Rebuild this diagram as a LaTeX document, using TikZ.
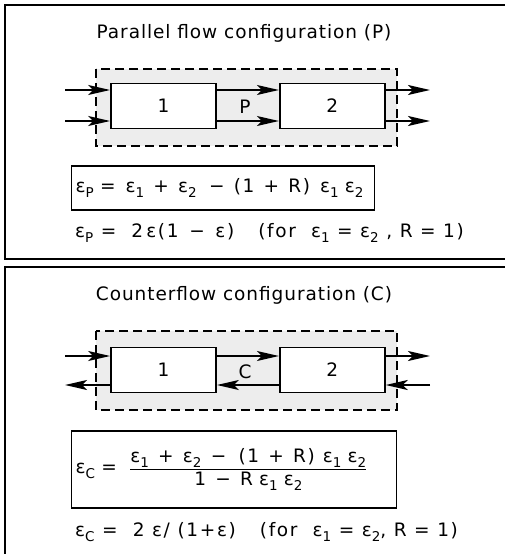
\documentclass[tikz,border=0pt]{standalone}
\usepackage{fontspec}
\setmainfont{DejaVu Sans}[LetterSpace=5]
\usepackage{tikz}
\usetikzlibrary{arrows.meta, positioning}

\newcommand{\eps}{ε}
\newcommand{\sbs}[1]{\raisebox{-5pt}{\fontsize{13.5}{14}\selectfont #1}}

\begin{document}
\begin{tikzpicture}[x=1pt, y=-1pt,
    >={Stealth[length=22pt, width=10pt, inset=5pt]},
    every node/.style={font=\fontsize{18.5}{22}\selectfont},
    eqfont/.style={font=\fontsize{18.5}{22}\selectfont\addfontfeature{LetterSpace=9}},
    unitbox/.style={draw, line width=1.8pt, fill=white, minimum width=105pt, minimum height=45pt, inner sep=0pt},
    flow/.style={line width=1.6pt, ->},
    zone/.style={draw, line width=1.4pt, dash pattern=on 9pt off 5pt, fill=black!7},
    frame/.style={line width=1.6pt},
    eqbox/.style={eqfont, draw, line width=1.4pt, anchor=west, inner xsep=4pt, align=left},
    eqline/.style={eqfont, anchor=west, inner xsep=4pt}]
    \useasboundingbox (0,0) rectangle (505,554);

    % Rahmen der beiden Felder (rechts offen)
    \draw[frame] (505,5) -- (5,5) -- (5,259) -- (505,259);
    \draw[frame] (505,267) -- (5,267) -- (5,554);

    % Parallelschaltung (P)
    \node (titleP) at (244,33) {Parallel flow configuration (P)};
    \draw[zone] (96,69) rectangle (397,146);
    \node[unitbox] (b1P) at (163.5,106) {1};
    \node[unitbox, right=62pt of b1P] (b2P) {2};
    \node (labP) at (245,107) {P};
    \coordinate (inPa) at (65,90);
    \coordinate (inPb) at (65,121);
    \coordinate (outPa) at (430,90);
    \coordinate (outPb) at (430,121);
    \draw[flow] (inPa) -- (inPa -| b1P.west);
    \draw[flow] (inPb) -- (inPb -| b1P.west);
    \draw[flow] (inPa -| b1P.east) -- (inPa -| b2P.west);
    \draw[flow] (inPb -| b1P.east) -- (inPb -| b2P.west);
    \draw[flow] (inPa -| b2P.east) -- (outPa);
    \draw[flow] (inPb -| b2P.east) -- (outPb);

    \node[eqbox, minimum height=44pt, text width=295pt] (eqP) at (71,188)
        {\eps\sbs{P} =\hspace{10pt}\eps\sbs{1} \,+\, \eps\sbs{2} \ −\ \,(1 \,+\, R)\hspace{10pt}\eps\sbs{1}\ \eps\sbs{2}};
    \node[eqline] (eqPs) at (71,233)
        {\eps\sbs{P} = \ 2\,\eps(1 \,−\, \eps)\hspace{24pt}(for \ \eps\sbs{1} = \eps\sbs{2} , R = 1)};

    % Gegenstromschaltung (C)
    \node (titleC) at (244,295) {Counterflow configuration (C)};
    \draw[zone] (96,331) rectangle (397,410);
    \node[unitbox] (b1C) at (163.5,370) {1};
    \node[unitbox, right=62pt of b1C] (b2C) {2};
    \node (labC) at (245,372) {C};
    \coordinate (inCa) at (65,356);
    \coordinate (outCb) at (65,385);
    \coordinate (outCa) at (430,356);
    \coordinate (inCb) at (430,385);
    \draw[flow] (inCa) -- (inCa -| b1C.west);
    \draw[flow] (inCa -| b1C.east) -- (inCa -| b2C.west);
    \draw[flow] (inCa -| b2C.east) -- (outCa);
    \draw[flow] (inCb) -- (inCb -| b2C.east);
    \draw[flow] (inCb -| b2C.west) -- (inCb -| b1C.east);
    \draw[flow] (inCb -| b1C.west) -- (outCb);

    \node[eqbox, minimum height=77pt, text width=317pt] (eqC) at (71,469.5)
        {\eps\sbs{C} = \ $\displaystyle\frac{\mbox{\eps\sbs{1} \,+\, \eps\sbs{2} \,−\ \ (1 \,+\, R)\hspace{8pt}\eps\sbs{1}\ \eps\sbs{2}}}{\mbox{1 \,−\, R \eps\sbs{1}\ \eps\sbs{2}}}$};
    \node[eqline] (eqCs) at (71,532)
        {\eps\sbs{C} = \ 2 \eps / (1+\eps)\hspace{24pt}(for \ \eps\sbs{1} = \eps\sbs{2}, R = 1)};
\end{tikzpicture}
\end{document}
